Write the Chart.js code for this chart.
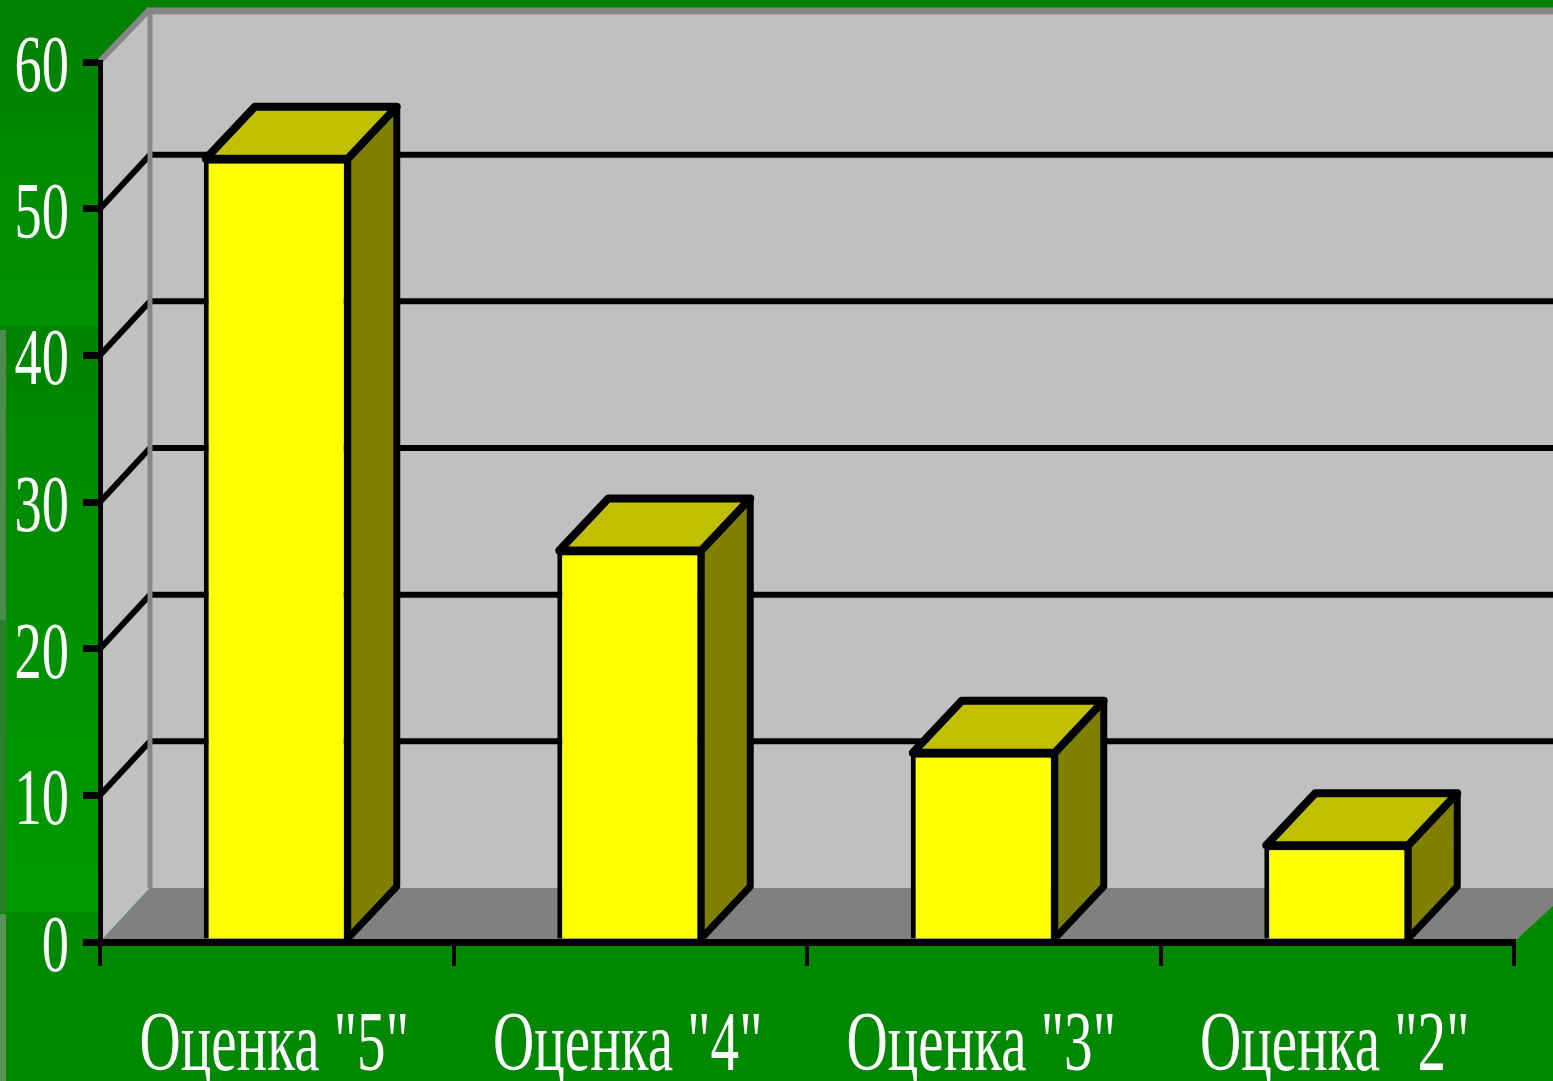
<!DOCTYPE html>
<html lang="ru">
<head>
<meta charset="utf-8">
<title>Оценки</title>
<script src="https://cdn.jsdelivr.net/npm/chart.js@4"></script>
<style>html,body{margin:0;padding:0;background:#008800;overflow:hidden}canvas{display:block}</style>
</head>
<body>
<canvas id="c" width="1553" height="1081"></canvas>
<script>
const categories = ['Оценка "5"', 'Оценка "4"', 'Оценка "3"', 'Оценка "2"'];
const marks = [53.6, 26.9, 13.1, 6.8];
const yTicks = [0, 10, 20, 30, 40, 50, 60];

const depthX = 50, depthY = 54;
const WALL = '#C0C0C0', FLOOR = '#808080', EDGE = '#868686';
const FRONT = '#FFFF00', TOP = '#C0C000', SIDE = '#808000', INK = '#000000';
const TEXT = '#FFFFFF', FONT = 'Liberation Serif', TEXT_SCALE = 0.68;

function poly(ctx, pts, fill, stroke, lw) {
  ctx.beginPath();
  pts.forEach((p, i) => i ? ctx.lineTo(p[0], p[1]) : ctx.moveTo(p[0], p[1]));
  ctx.closePath();
  if (fill) { ctx.fillStyle = fill; ctx.fill(); }
  if (stroke) { ctx.strokeStyle = stroke; ctx.lineWidth = lw; ctx.lineJoin = 'round'; ctx.stroke(); }
}
function seg(ctx, x1, y1, x2, y2, color, lw) {
  ctx.beginPath(); ctx.moveTo(x1, y1); ctx.lineTo(x2, y2);
  ctx.strokeStyle = color; ctx.lineWidth = lw; ctx.lineCap = 'butt'; ctx.stroke();
}
function narrowText(ctx, text, x, y, size, align) {
  ctx.save();
  ctx.translate(x, y);
  ctx.scale(TEXT_SCALE, 1);
  ctx.font = size + 'px "' + FONT + '"';
  ctx.fillStyle = TEXT;
  ctx.textAlign = align;
  ctx.textBaseline = 'alphabetic';
  ctx.fillText(text, 0, 0);
  ctx.restore();
}

const scene3d = {
  id: 'scene3d',
  beforeDraw(chart) {
    const { ctx, width, height, chartArea: a, scales: { y } } = chart;
    ctx.save();
    // slide background
    const g = ctx.createLinearGradient(0, 0, 0, 325);
    g.addColorStop(0, '#008000'); g.addColorStop(1, '#009200');
    ctx.fillStyle = '#008800'; ctx.fillRect(0, 0, width, height);
    ctx.fillStyle = g; ctx.fillRect(0, 0, width, 326);
    const g2 = ctx.createLinearGradient(0, 326, 0, 912);
    g2.addColorStop(0, '#008400'); g2.addColorStop(1, '#009A00');
    ctx.fillStyle = g2; ctx.fillRect(0, 326, 110, 586);
    ctx.fillStyle = '#4F8A4F'; ctx.fillRect(0, 330, 6, 290);
    ctx.fillStyle = '#2A7F2A'; ctx.fillRect(0, 620, 6, 292);
    ctx.fillStyle = '#5A935A'; ctx.fillRect(0, 914, 6, 167);

    // walls and floor
    const top = y.top - depthY, bot = y.bottom - depthY, bx = a.left + depthX;
    poly(ctx, [[bx, top], [width, top], [width, bot], [bx, bot]], WALL);
    poly(ctx, [[a.left, y.top], [bx, top], [bx, bot], [a.left, y.bottom]], WALL);
    poly(ctx, [[a.left, y.bottom], [bx, bot], [width, bot], [width, y.bottom - 36], [a.right, y.bottom]], FLOOR);

    // gridlines on the two walls
    yTicks.filter(v => v > 0 && v < 60).forEach(v => {
      const p = y.getPixelForValue(v);
      seg(ctx, a.left, p, bx, p - depthY, INK, 6);
      seg(ctx, bx, p - depthY, width, p - depthY, INK, 6);
    });
    // wall edges
    seg(ctx, bx, top, bx, bot, EDGE, 5);
    seg(ctx, bx - 2, top + 3, width, top + 3, EDGE, 7);
    seg(ctx, a.left, y.top - 1, bx, top + 1, EDGE, 6);
    ctx.restore();
  },
  beforeDatasetsDraw(chart) {
    const { ctx } = chart;
    ctx.save();
    chart.getDatasetMeta(0).data.forEach(b => {
      const p = b.getProps(['x', 'y', 'base', 'width'], true);
      const l = p.x - p.width / 2 + 2, r = p.x + p.width / 2 - 2;
      const t = p.y + 3, bt = p.base;
      const dx = depthX - 1, dy = depthY - 2;
      poly(ctx, [[r, t], [r + dx, t - dy], [r + dx, bt - dy], [r, bt]], SIDE, INK, 7);
      poly(ctx, [[l, t], [l + dx, t - dy], [r + dx, t - dy], [r, t]], TOP, INK, 8);
    });
    ctx.restore();
  },
  afterDraw(chart) {
    const { ctx, scales: { x, y } } = chart;
    yTicks.forEach(v => narrowText(ctx, String(v), 69, y.getPixelForValue(v) + 29, 80, 'right'));
    categories.forEach((c, i) => narrowText(ctx, c, x.getPixelForValue(i) - 2.5, 1070, 84, 'center'));
  }
};

new Chart(document.getElementById('c'), {
  type: 'bar',
  data: {
    labels: categories,
    datasets: [{
      data: marks,
      backgroundColor: FRONT,
      borderColor: INK,
      borderWidth: { top: 8, left: 5, right: 6, bottom: 0 },
      borderSkipped: false,
      barPercentage: 0.413,
      categoryPercentage: 1
    }]
  },
  options: {
    responsive: false,
    devicePixelRatio: 1,
    animation: false,
    layout: { padding: { top: 62, right: 39, left: 0, bottom: 0 } },
    plugins: { legend: { display: false }, tooltip: { enabled: false }, title: { display: false } },
    scales: {
      x: {
        offset: true,
        afterFit(s) { s.height = 139; },
        ticks: { display: false, autoSkip: false },
        grid: { drawOnChartArea: false, color: INK, lineWidth: 4, tickLength: 24, tickColor: INK, tickWidth: 4 },
        border: { display: true, color: INK, width: 7, z: 2 }
      },
      y: {
        min: 0, max: 60,
        afterFit(s) { s.width = 100; },
        ticks: { display: false, stepSize: 10 },
        grid: { drawOnChartArea: false, color: INK, lineWidth: 7, tickLength: 17, tickColor: INK, tickWidth: 7 },
        border: { display: true, color: INK, width: 5, z: 2 }
      }
    }
  },
  plugins: [scene3d]
});
</script>
</body>
</html>
